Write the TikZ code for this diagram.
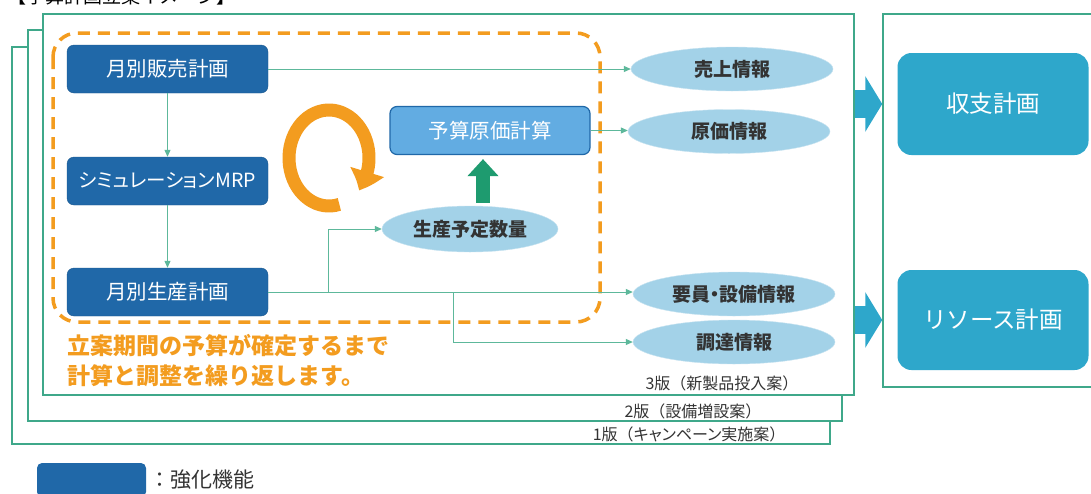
\documentclass[tikz,border=0pt]{standalone}
\usepackage{fontspec}
\setmainfont{Noto Sans CJK JP}
\usetikzlibrary{arrows.meta,bending,shapes.geometric,calc}

\definecolor{framegreen}{HTML}{3FA88A}
\definecolor{linegreen}{HTML}{5DB89B}
\definecolor{darkblue}{HTML}{2068A8}
\definecolor{lightblue}{HTML}{62ACE2}
\definecolor{infoblue}{HTML}{A3D2E8}
\definecolor{teal}{HTML}{2EA7CB}
\definecolor{looporange}{HTML}{F39C1F}
\definecolor{upgreen}{HTML}{1E9B6F}

\begin{document}
\begin{tikzpicture}[x=1pt,y=-1pt]
	 \tikzstyle{frame}=[rectangle,draw=framegreen,line width=1.5pt,fill=white,inner sep=0pt]
	 \tikzstyle{plan}=[rectangle,rounded corners=7pt,fill=darkblue,draw=darkblue!85!black,text=white,minimum width=201pt,minimum height=48pt,font=\fontsize{20.5}{20.5}\selectfont]
	 \tikzstyle{result}=[rectangle,rounded corners=14pt,fill=teal,text=white,minimum width=191pt,minimum height=102pt,font=\fontsize{23.5}{23.5}\selectfont]
	 \tikzstyle{info}=[ellipse,fill=infoblue,draw=infoblue!60!white,inner sep=0pt,minimum width=202pt,minimum height=44pt,text=black!80,font=\fontsize{19}{19}\selectfont\addfontfeatures{RawFeature=+palt}\bfseries]
	 \tikzstyle{version}=[anchor=east,text=black!80,font=\fontsize{16}{16}\selectfont]
	 \tikzstyle{flow}=[draw=linegreen,line width=1pt,-{Triangle[length=7pt,width=6pt]}]
	 \tikzstyle{big arrow}=[draw=teal,line width=28pt,-{Triangle[length=17pt,width=55pt]}]
	 \useasboundingbox (0,0) rectangle (1091,493);
	 % title, cut off by the page
	 \node[anchor=base west,font=\fontsize{19}{19}\selectfont] (title) at (4,3.5) {【予算計画立案イメージ】};
	 % version frames
	 \node[frame,minimum width=818pt,minimum height=397pt] (f1) at (421,245.5) {};
	 \node[frame,minimum width=814pt,minimum height=391pt] (f2) at (435,225.5) {};
	 \node[frame,minimum width=811pt,minimum height=381pt] (f3) at (448.5,204.5) {};
	 \node[frame,minimum width=214pt,minimum height=373pt] (fr) at (990,200.5) {};
	 \node[version] (v1) at (789,434) {1版（{\addfontfeatures{RawFeature=+palt}キャンペーン}実施案）};
	 \node[version] (v2) at (765,411) {2版（設備増設案）};
	 \node[version] (v3) at (802,383) {3版（新製品投入案）};
	 % loop area
	 \draw[looporange,line width=3.5pt,dash pattern=on 12pt off 8pt,rounded corners=24pt] (53,33) rectangle (600,322);
	 \node[plan] (sales) at (167.5,69) {月別販売計画};
	 \node[plan,font=\fontsize{19.5}{19.5}\selectfont\addfontfeatures{RawFeature=+palt}] (mrp) at (167.5,181) {シミュレーションMRP};
	 \node[plan] (prod) at (167.5,292) {月別生産計画};
	 \node[plan,fill=lightblue,draw=darkblue,line width=1.2pt,minimum width=200pt] (cost) at (490,130.5) {予算原価計算};
	 \node[info,minimum width=176pt,minimum height=46pt] (qty) at (470,229) {生産予定数量};
	 \coordinate (loop) at (329,158);
	 \draw[looporange,line width=13pt,-{Triangle[bend,length=20pt,width=34pt]}] ($(loop)+(75:40 and 48)$) arc[start angle=75,end angle=402,x radius=40,y radius=48];
	 \draw[upgreen,line width=14pt,-{Triangle[length=17pt,width=30pt]},shorten <=3pt,shorten >=4pt] (qty.north -| 483,0) -- (cost.south -| 483,0);
	 % info
	 \node[info] (salesinfo) at (732,69) {売上情報};
	 \node[info] (costinfo) at (729,131.5) {原価情報};
	 \node[info] (staffinfo) at (734,294) {要員・設備情報};
	 \node[info] (procinfo) at (734,342) {調達情報};
	 \draw[flow] (sales) -- (mrp);
	 \draw[flow] (mrp) -- (prod);
	 \draw[flow] (sales.east) -- (sales.east -| salesinfo.west);
	 \draw[flow] (cost.east) -- (cost.east -| costinfo.west);
	 \draw[flow] (prod.east) -- (prod.east -| staffinfo.west);
	 \coordinate (b1) at (328,292);
	 \coordinate (b2) at (453,292);
	 \draw[flow] (b1) |- (qty.west);
	 \draw[flow] (b2) |- (procinfo.west);
	 \node[anchor=west,text=looporange,font=\fontsize{23}{29.5}\selectfont\bfseries,align=left] (note) at (64,360.5) {立案期間の予算が確定するまで\\計算と調整を繰り返します。};
	 % plans
	 \node[result] (pl) at (993,104) {収支計画};
	 \node[result,minimum height=100pt] (res) at (993,320) {リソース計画};
	 \draw[big arrow] (pl.west -| f3.east) -- (pl.west -| fr.west);
	 \draw[big arrow] (res.west -| f3.east) -- (res.west -| fr.west);
	 % legend
	 \node[rectangle,rounded corners=5pt,fill=darkblue,minimum width=109pt,minimum height=34pt] (key) at (91.5,480) {};
	 \node[anchor=west,font=\fontsize{21}{21}\selectfont,text=black!80] (keytext) at (key.east) {：強化機能};
 \end{tikzpicture}
\end{document}
